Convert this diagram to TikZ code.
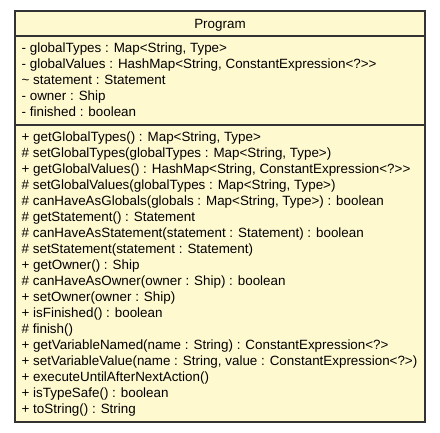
\documentclass[tikz,border=0pt]{standalone}
\usepackage{fontspec}
\setmainfont{Liberation Sans}
\definecolor{classfill}{RGB}{255,249,208}
\definecolor{classline}{RGB}{51,51,51}

\begin{document}
\begin{tikzpicture}[x=1pt,y=-1pt,
    member/.style={anchor=base west,inner sep=0pt,font=\fontsize{13.4}{16}\selectfont}]
            \useasboundingbox (0,0) rectangle (440,432);
            \draw[fill=classfill,draw=classline,line width=1.3pt] (15,11) rectangle (425,422);
            \draw[classline,line width=1.3pt] (15,36)--(425,36);
            \draw[classline,line width=1.3pt] (15,125)--(425,125);
            \node[member,anchor=base] (title) at (220,28) {Program};
            \foreach \t [count=\i] in {{- globalTypes : Map<String, Type>},
                {- globalValues : HashMap<String, ConstantExpression<?>{}>},
                {\textasciitilde{} statement : Statement},
                {- owner : Ship},
                {- finished : boolean}}{
                \node[member] (attr\i) at (21.5,36.5+16*\i) {\t};
            }
            \foreach \t [count=\i] in {{+ getGlobalTypes() : Map<String, Type>},
                {\# setGlobalTypes(globalTypes : Map<String, Type>)},
                {+ getGlobalValues() : HashMap<String, ConstantExpression<?>{}>},
                {\# setGlobalValues(globalTypes : Map<String, Type>)},
                {\# canHaveAsGlobals(globals : Map<String, Type>) : boolean},
                {\# getStatement() : Statement},
                {\# canHaveAsStatement(statement : Statement) : boolean},
                {\# setStatement(statement : Statement)},
                {+ getOwner() : Ship},
                {\# canHaveAsOwner(owner : Ship) : boolean},
                {+ setOwner(owner : Ship)},
                {+ isFinished() : boolean},
                {\# finish()},
                {+ getVariableNamed(name : String) : ConstantExpression<?>},
                {+ setVariableValue(name : String, value : ConstantExpression<?>)},
                {+ executeUntilAfterNextAction()},
                {+ isTypeSafe() : boolean},
                {+ toString() : String}}{
                \node[member] (meth\i) at (21.5,125.5+16*\i) {\t};
            }
        \end{tikzpicture}
\end{document}
